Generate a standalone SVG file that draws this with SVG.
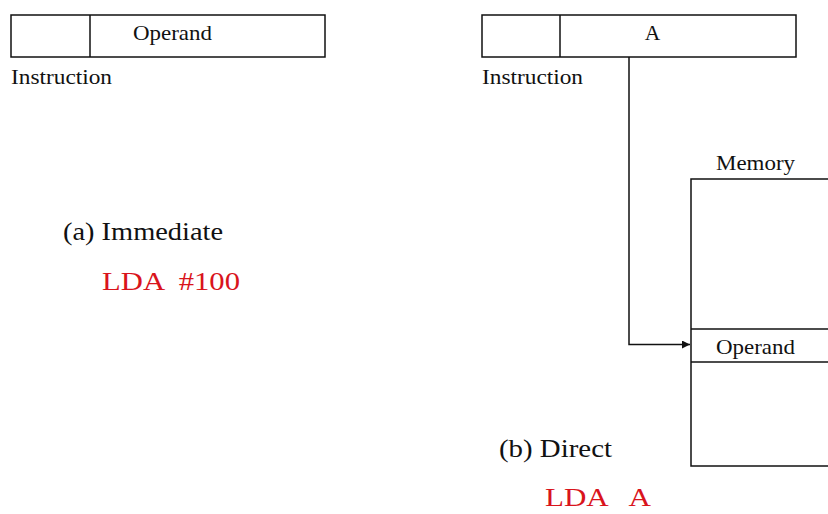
<svg xmlns="http://www.w3.org/2000/svg" width="828" height="514" viewBox="0 0 828 514">
<defs>
<style>
.box{fill:#fff;stroke:#111;stroke-width:1.5}
.ln{fill:none;stroke:#111;stroke-width:1.5}
.t{font-family:"Liberation Serif","Times New Roman",serif;fill:#111}
.s{font-size:21.5px}
.c{font-size:24.5px}
.r{font-size:25.5px;fill:#d9141c}
</style>
<marker id="arr" viewBox="0 0 10 10" refX="10" refY="5" markerWidth="8" markerHeight="8" markerUnits="userSpaceOnUse" orient="auto">
<path d="M0,0 L10,5 L0,10 z" fill="#111"/>
</marker>
</defs>
<rect width="828" height="514" fill="#fff"/>
<g id="instr-a">
<rect class="box" x="11" y="15" width="314" height="42"/>
<line class="ln" x1="90" y1="15" x2="90" y2="57"/>
<text class="t s" x="133" y="39.5" textLength="79" lengthAdjust="spacingAndGlyphs">Operand</text>
<text class="t s" x="11" y="84" textLength="101" lengthAdjust="spacingAndGlyphs">Instruction</text>
</g>
<g id="caption-a">
<text class="t c" x="63" y="240" textLength="160" lengthAdjust="spacingAndGlyphs">(a) Immediate</text>
<text class="t r" x="102" y="290" xml:space="preserve" textLength="138" lengthAdjust="spacingAndGlyphs">LDA  #100</text>
</g>
<g id="instr-b">
<rect class="box" x="482" y="15" width="314" height="42"/>
<line class="ln" x1="560" y1="15" x2="560" y2="57"/>
<text class="t s" x="652.5" y="40" text-anchor="middle">A</text>
<text class="t s" x="482" y="84" textLength="101" lengthAdjust="spacingAndGlyphs">Instruction</text>
</g>
<g id="memory">
<text class="t s" x="716" y="170" textLength="79" lengthAdjust="spacingAndGlyphs">Memory</text>
<rect class="box" x="691" y="179" width="150" height="287"/>
<line class="ln" x1="691" y1="329" x2="828" y2="329"/>
<line class="ln" x1="691" y1="362" x2="828" y2="362"/>
<text class="t s" x="716" y="353.5" textLength="79" lengthAdjust="spacingAndGlyphs">Operand</text>
</g>
<g id="caption-b">
<text class="t c" x="499" y="457" textLength="113" lengthAdjust="spacingAndGlyphs">(b) Direct</text>
<text class="t r" x="545" y="506" xml:space="preserve" textLength="106" lengthAdjust="spacingAndGlyphs">LDA   A</text>
</g>
<g id="connectors">
<polyline class="ln" points="629,57 629,344.5 690,344.5" marker-end="url(#arr)"/>
</g>
</svg>
